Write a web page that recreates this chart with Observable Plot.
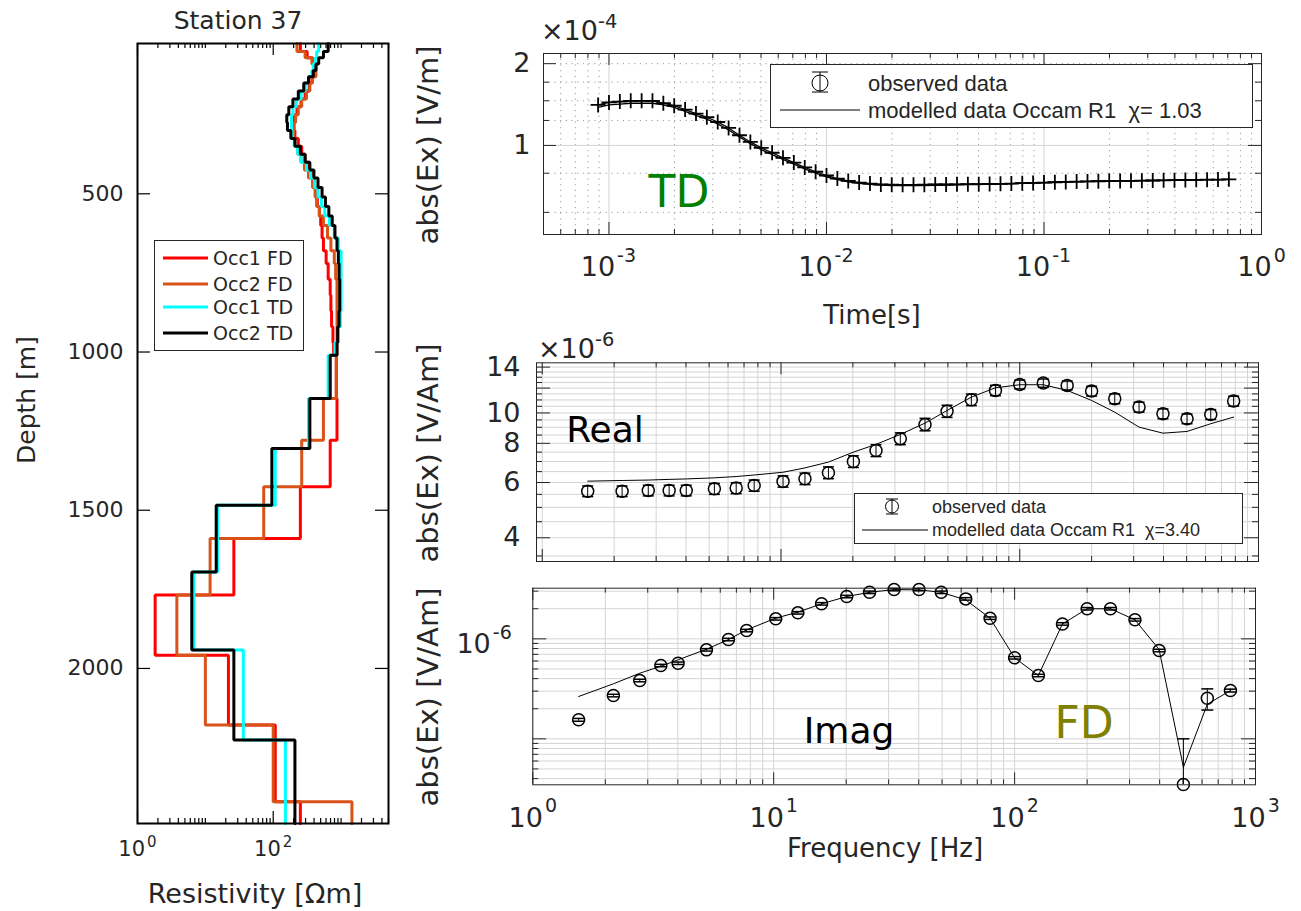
<!DOCTYPE html>
<html><head><meta charset="utf-8">
<script src="https://cdn.jsdelivr.net/npm/d3@7"></script>
<script src="https://cdn.jsdelivr.net/npm/@observablehq/plot@0.6"></script>
<style>
body{margin:0;background:#fff;width:1301px;height:911px;position:relative;overflow:hidden;font-family:"DejaVu Sans",sans-serif;color:#262626}
.abs{position:absolute;white-space:nowrap;line-height:1}
.pl{position:absolute}
.pl svg{overflow:visible}
sup{font-size:0.72em;vertical-align:0.6em;line-height:0}
</style></head><body>
<script>
// ---------------- DATA ----------------
// Left panel: layered resistivity models (log10 of resistivity in Ohm m), layer top depths in m
const upperLayerTops = [25,50,70,90,110,130,150,175,200,225,250,275,300,325,350,375,400,425,450,480,510,540,570,600,640,680,720,770,820,870,920,970];
const fdDeepTops = [1010,1147,1279,1426,1589,1768,1958,2179,2421];
const tdDeepTops = [1010,1147,1305,1484,1695,1942,2226];
const depthBottom = 2490;
const occ1FDUpper = [2.40,2.50,2.58,2.62,2.62,2.57,2.53,2.47,2.41,2.35,2.31,2.30,2.32,2.37,2.42,2.47,2.52,2.56,2.59,2.62,2.65,2.68,2.70,2.72,2.74,2.78,2.81,2.84,2.85,2.86,2.88,2.89];
const occ1FDDeep = [2.93,2.94,2.84,2.40,1.42,0.26,1.34,2.03,2.40];
const occ2FDUpper = [2.35,2.47,2.57,2.63,2.63,2.58,2.54,2.49,2.42,2.37,2.33,2.31,2.30,2.32,2.36,2.41,2.46,2.52,2.58,2.62,2.64,2.68,2.74,2.80,2.85,2.90,2.92,2.94,2.94,2.94,2.94,2.94];
const occ2FDDeep = [2.93,2.74,2.42,1.86,1.07,0.58,1.00,2.00,3.16];
const occ1TDUpper = [2.67,2.64,2.62,2.59,2.57,2.52,2.47,2.41,2.34,2.29,2.27,2.27,2.28,2.31,2.36,2.41,2.49,2.55,2.61,2.66,2.71,2.76,2.83,2.90,2.96,3.00,3.00,3.00,3.00,2.99,2.96,2.91];
const occ1TDDeep = [2.81,2.52,2.03,1.18,0.83,1.56,2.18];
const occ2TDUpper = [2.81,2.74,2.67,2.63,2.59,2.52,2.45,2.37,2.29,2.23,2.20,2.21,2.26,2.32,2.40,2.47,2.54,2.60,2.66,2.72,2.77,2.82,2.87,2.91,2.94,2.96,2.97,2.98,2.98,2.97,2.95,2.94];
const occ2TDDeep = [2.84,2.54,1.98,1.16,0.80,1.42,2.32];
const modelNames = ["Occ1 FD","Occ2 FD","Occ1 TD","Occ2 TD"];
const modelColors = ["#ff0000","#d95319","#00ffff","#000000"];
const depthTicks = [500,1000,1500,2000];

// Top right: time domain (x 1e-4 V/m)
const tdTime = [0.000891,0.001,0.001122,0.001259,0.001413,0.001585,0.001778,0.001995,0.002239,0.002512,0.002818,0.003162,0.003548,0.003981,0.004467,0.005012,0.005623,0.00631,0.007079,0.007943,0.008913,0.01,0.01122,0.01259,0.01413,0.01585,0.01778,0.01995,0.02239,0.02512,0.02818,0.03162,0.03548,0.03981,0.04467,0.05012,0.05623,0.0631,0.07079,0.07943,0.08913,0.1,0.1122,0.1259,0.1413,0.1585,0.1778,0.1995,0.2239,0.2512,0.2818,0.3162,0.3548,0.3981,0.4467,0.5012,0.5623,0.631,0.7079];
const tdObserved = [1.41,1.44,1.45,1.46,1.46,1.46,1.43,1.40,1.355,1.31,1.27,1.22,1.16,1.09,1.03,0.98,0.94,0.90,0.865,0.83,0.80,0.775,0.755,0.74,0.73,0.724,0.718,0.717,0.716,0.716,0.717,0.718,0.718,0.719,0.72,0.72,0.721,0.722,0.724,0.726,0.728,0.73,0.732,0.734,0.736,0.737,0.738,0.739,0.74,0.741,0.742,0.743,0.744,0.745,0.746,0.747,0.748,0.749,0.75];
const tdModelled = [1.38,1.41,1.42,1.43,1.43,1.43,1.41,1.38,1.335,1.29,1.25,1.20,1.14,1.075,1.015,0.965,0.925,0.888,0.853,0.82,0.79,0.766,0.748,0.734,0.725,0.719,0.714,0.712,0.711,0.711,0.712,0.713,0.714,0.716,0.717,0.718,0.72,0.722,0.724,0.726,0.728,0.73,0.732,0.734,0.735,0.736,0.738,0.739,0.74,0.741,0.742,0.743,0.744,0.745,0.746,0.747,0.748,0.749,0.75];
const tdChi = "1.03";

// Frequency domain
const freqs = [1.55,2.16,2.78,3.40,4.01,5.26,6.49,7.72,10.2,12.6,15.8,20.1,25.0,31.6,40.1,49.6,62.7,79.1,100,125.5,158,200,250,316,398,502,631,787];
const realObserved = [5.63,5.63,5.66,5.66,5.66,5.73,5.76,5.87,6.05,6.17,6.45,7.00,7.59,8.28,9.19,10.13,11.02,11.80,12.33,12.45,12.24,11.74,11.10,10.44,9.94,9.58,9.89,10.91];
const realError = [0.22,0.22,0.22,0.22,0.22,0.23,0.23,0.24,0.25,0.26,0.28,0.30,0.33,0.36,0.42,0.45,0.47,0.45,0.40,0.38,0.40,0.42,0.40,0.38,0.36,0.34,0.36,0.40];
const realModelled = [6.06,6.09,6.11,6.14,6.16,6.21,6.27,6.34,6.47,6.68,6.97,7.50,7.94,8.54,9.28,10.18,11.23,12.03,12.30,12.30,11.80,10.96,10.06,9.01,8.62,8.73,9.24,9.70];
const imagObserved = [1.55e-7,2.71e-7,3.83e-7,5.41e-7,5.70e-7,7.76e-7,9.84e-7,1.21e-6,1.585e-6,1.82e-6,2.24e-6,2.65e-6,2.92e-6,3.11e-6,3.11e-6,2.92e-6,2.51e-6,1.61e-6,6.46e-7,4.30e-7,1.41e-6,2.0e-6,2.0e-6,1.55e-6,7.64e-7,3.5e-8,2.55e-7,3.04e-7];
const imagError = [5e-9,8e-9,1.1e-8,1.5e-8,1.6e-8,2.2e-8,2.8e-8,3.4e-8,4.5e-8,5.2e-8,6.4e-8,7.5e-8,8.3e-8,8.8e-8,8.8e-8,8.3e-8,7.1e-8,4.6e-8,1.8e-8,1.2e-8,4.0e-8,5.7e-8,5.7e-8,4.4e-8,2.2e-8,6.5e-8,6.1e-8,1.0e-8];
const imagModelled = [2.65e-7,3.55e-7,4.53e-7,5.32e-7,6.17e-7,7.87e-7,9.84e-7,1.23e-6,1.61e-6,1.85e-6,2.24e-6,2.65e-6,2.92e-6,3.11e-6,3.09e-6,2.92e-6,2.45e-6,1.61e-6,6.46e-7,4.30e-7,1.41e-6,2.0e-6,2.0e-6,1.55e-6,7.82e-7,5.2e-8,2.22e-7,3.04e-7];
const fdChi = "3.40";

// ticks / grid positions
const decadeMinor1 = [2,3,4,5,6,7,8,9,20,30,40,50,60,70,80,90,200,300,400,500,600,700,800,900];
const freqGrid = [1,2,3,4,5,6,7,8,9,10,20,30,40,50,60,70,80,90,100,200,300,400,500,600,700,800,900,1000];
const resMinor = [2,3,4,5,6,7,8,9,10,20,30,40,50,60,70,80,90,200,300,400,500,600,700,800,900,1000,2000,3000,4000,5000];
const timeMajor = [0.001,0.01,0.1];
const timeMinor = [5e-4,6e-4,7e-4,8e-4,9e-4,0.002,0.003,0.004,0.005,0.006,0.007,0.008,0.009,0.02,0.03,0.04,0.05,0.06,0.07,0.08,0.09,0.2,0.3,0.4,0.5,0.6,0.7,0.8,0.9];
const tdYMinor = [0.567,0.79,1.236,1.46,1.71,2];
const realYMajor = [4,6,8,10,12,14];
const realYLabels = [4,6,8,10,14];
const realYGrid = [3.5,4,4.5,5,5.5,6,6.5,7,7.5,8,8.5,9,9.5,10,10.5,11,11.5,12,12.5,13,13.5,14];
const imagYGrid = [4e-8,5e-8,6e-8,7e-8,8e-8,9e-8,1e-7,2e-7,3e-7,4e-7,5e-7,6e-7,7e-7,8e-7,9e-7,1e-6,2e-6,3e-6];

// ---------------- HELPERS ----------------
const expStr = d => String(Math.round(Math.log10(d)));
const capSym = {draw(ctx, size){const r = Math.sqrt(size/Math.PI); ctx.moveTo(-r,0); ctx.lineTo(r,0);}};
const plusSym = {draw(ctx, size){const r = Math.sqrt(size/Math.PI); ctx.moveTo(-r,0); ctx.lineTo(r,0); ctx.moveTo(0,-r); ctx.lineTo(0,r);}};
const GRID = "#d4d4d4";
const AX = "#262626";

// power-of-ten tick labels: "10" plus a raised exponent, centred on the tick
function powLabelsX(ticks, {fb, fe, dyB, dyE, gap = 2}) {
  const marks = [];
  for (const t of ticks) {
    const e = expStr(t).split("").reduce((s, c) => s + (c === "-" ? 0.42 : 0.636), 0) * fe;
    const bw = 1.272 * fb, tot = bw + gap + e, endB = -tot / 2 + bw;
    marks.push(Plot.text([t], {x: d => d, frameAnchor: "bottom", text: () => "10", textAnchor: "end", dx: endB, dy: dyB, fontSize: fb, lineAnchor: "middle"}));
    marks.push(Plot.text([t], {x: d => d, frameAnchor: "bottom", text: d => expStr(d), textAnchor: "start", dx: endB + gap, dy: dyE, fontSize: fe, lineAnchor: "middle"}));
  }
  return marks;
}
function boxTicks({xMaj=[], xMin=[], yMaj=[], yMin=[], W, H, xL=[12,5], yL=[14,6], stroke=AX, sw=1}) {
  const m = [];
  for (const [vals, L] of [[xMaj, xL[0]], [xMin, xL[1]]]) {
    m.push(Plot.tickX(vals, {x: d => d, insetTop: H - L, stroke, strokeWidth: sw}));
    m.push(Plot.tickX(vals, {x: d => d, insetBottom: H - L, stroke, strokeWidth: sw}));
  }
  for (const [vals, L] of [[yMaj, yL[0]], [yMin, yL[1]]]) {
    m.push(Plot.tickY(vals, {y: d => d, insetRight: W - L, stroke, strokeWidth: sw}));
    m.push(Plot.tickY(vals, {y: d => d, insetLeft: W - L, stroke, strokeWidth: sw}));
  }
  return m;
}
function place(node, left, top) {
  const d = document.createElement("div");
  d.className = "pl"; d.style.left = left + "px"; d.style.top = top + "px";
  d.appendChild(node); document.body.appendChild(d);
}
function txt(html, x, y, o = {}) {
  const d = document.createElement("div");
  d.className = "abs"; d.innerHTML = html;
  d.style.left = x + "px"; d.style.top = y + "px";
  d.style.fontSize = (o.size || 24) + "px";
  d.style.fontFamily = o.family || '"DejaVu Sans"';
  d.style.color = o.color || AX;
  d.style.transform = (o.left ? "translate(0,-50%)" : "translate(-50%,-50%)") + (o.rotate ? ` rotate(${o.rotate}deg)` : "");
  document.body.appendChild(d);
}
function svgBox(html, left, top, w, h) {
  const d = document.createElement("div");
  d.className = "pl"; d.style.left = left + "px"; d.style.top = top + "px";
  d.innerHTML = `<svg width="${w}" height="${h}" xmlns="http://www.w3.org/2000/svg">${html}</svg>`;
  document.body.appendChild(d);
}

// ---------------- PANEL A: depth profiles ----------------
function layers(upper, deep, deepTops) {
  const vals = upper.concat(deep), tops = upperLayerTops.concat(deepTops);
  const pts = [];
  tops.forEach((t, i) => {
    const b = i + 1 < tops.length ? tops[i + 1] : depthBottom;
    pts.push({rho: 10 ** vals[i], depth: t}, {rho: 10 ** vals[i], depth: b});
  });
  return pts;
}
const profiles = [
  layers(occ1FDUpper, occ1FDDeep, fdDeepTops),
  layers(occ2FDUpper, occ2FDDeep, fdDeepTops),
  layers(occ1TDUpper, occ1TDDeep, tdDeepTops),
  layers(occ2TDUpper, occ2TDDeep, tdDeepTops)
];
{
  const W = 251, H = 780;
  const p = Plot.plot({
    width: 400, height: 911, marginLeft: 137, marginRight: 12, marginTop: 43, marginBottom: 88,
    x: {type: "log", domain: [1, 5000], axis: null},
    y: {domain: [25, 2490], reverse: true},
    style: {fontFamily: '"DejaVu Sans"', fontSize: "22px", color: AX, background: "transparent"},
    marks: [
      ...boxTicks({xMaj: [1, 100], xMin: resMinor, yMaj: depthTicks, W, H, xL: [12, 5], yL: [13, 6], stroke: "#000", sw: 1.2}),
      ...profiles.map((pts, i) => Plot.line(pts, {x: "rho", y: "depth", stroke: modelColors[i], strokeWidth: 3, strokeLinejoin: "miter"})),
      ...powLabelsX([1, 100], {fb: 21, fe: 15, dyB: 26, dyE: 19}),
      Plot.axisY({ticks: depthTicks, tickFormat: d => String(d), tickSize: 0, tickPadding: 14, label: null, anchor: "left"}),
      Plot.frame({stroke: "#000", strokeWidth: 2})
    ]
  });
  place(p, 0, 0);
  txt("Station 37", 238, 20, {size: 25});
  txt("Depth [m]", 26, 400, {size: 25, rotate: -90});
  txt("Resistivity [\u03a9m]", 255, 893, {size: 27});
  let lg = `<rect x="0.5" y="0.5" width="149" height="110" fill="white" stroke="${AX}"/>`;
  [18, 44, 67, 93].forEach((yy, i) => {
    lg += `<line x1="9" x2="54" y1="${yy}" y2="${yy}" stroke="${modelColors[i]}" stroke-width="3"/>`;
    lg += `<text x="59" y="${yy}" dy="0.36em" font-family="DejaVu Sans" font-size="19" fill="${AX}">${modelNames[i]}</text>`;
  });
  svgBox(lg, 154, 240, 150, 111);
}

// ---------------- PANEL B: time domain ----------------
{
  const W = 718, H = 181;
  const data = tdTime.map((t, i) => ({t, obs: tdObserved[i], mod: tdModelled[i]}));
  const p = Plot.plot({
    width: 860, height: 300, marginLeft: 103, marginRight: 39, marginTop: 53, marginBottom: 66,
    x: {type: "log", domain: [5e-4, 1], axis: null},
    y: {type: "log", domain: [0.47, 2.18]},
    style: {fontFamily: '"DejaVu Sans"', fontSize: "27px", color: AX, background: "transparent"},
    marks: [
      Plot.ruleX(timeMinor, {stroke: "#9a9a9a", strokeDasharray: "1.2,4.5", strokeWidth: 1}),
      Plot.ruleY(tdYMinor, {stroke: "#9a9a9a", strokeDasharray: "1.2,4.5", strokeWidth: 1}),
      Plot.ruleX(timeMajor, {stroke: GRID}),
      Plot.ruleY([1], {stroke: GRID}),
      ...boxTicks({xMaj: timeMajor, xMin: timeMinor, yMaj: [1, 2], yMin: [0.567, 0.79, 1.236, 1.46, 1.71], W, H, xL: [12, 5], yL: [13, 6]}),
      Plot.line(data, {x: "t", y: "mod", stroke: "#000", strokeWidth: 1.3}),
      Plot.line(data, {x: "t", y: "obs", stroke: "#000", strokeWidth: 1.3}),
      Plot.dot(data, {x: "t", y: "obs", symbol: plusSym, r: 7.5, stroke: "#000", fill: "none", strokeWidth: 1.8}),
      ...powLabelsX([0.001, 0.01, 0.1, 1], {fb: 27, fe: 19, dyB: 33, dyE: 21}),
      Plot.axisY({ticks: [1, 2], tickFormat: d => String(d), tickSize: 0, tickPadding: 13, label: null, anchor: "left"}),
      Plot.frame({stroke: AX})
    ]
  });
  place(p, 440, 0);
  txt("\u00d710<sup>-4</sup>", 541, 30, {size: 27, left: true});
  txt("abs(Ex) [V/m]", 428, 145, {size: 29, rotate: -90});
  txt("Time[s]", 872, 315, {size: 26});
  txt("TD", 679, 192, {size: 44, color: "#008000"});
  const lg = `<rect x="0.5" y="0.5" width="482" height="63" fill="white" stroke="${AX}"/>
    <line x1="50" x2="50" y1="8" y2="28" stroke="#000"/>
    <line x1="42" x2="58" y1="8" y2="8" stroke="#000"/>
    <line x1="42" x2="58" y1="28" y2="28" stroke="#000"/>
    <circle cx="50" cy="19" r="8" fill="none" stroke="#000"/>
    <text x="98" y="19" dy="0.36em" font-family="Liberation Sans" font-size="22" fill="${AX}">observed data</text>
    <line x1="10" x2="90" y1="46" y2="46" stroke="#000"/>
    <text x="98" y="46" dy="0.36em" font-family="Liberation Sans" font-size="22" fill="${AX}">modelled data Occam R1\u00a0\u00a0\u03c7= ${tdChi}</text>`;
  svgBox(lg, 770, 64, 484, 65);
}

// ---------------- PANEL C: real part ----------------
{
  const W = 722, H = 198.7;
  const data = freqs.map((f, i) => ({f, obs: realObserved[i], mod: realModelled[i], lo: realObserved[i] - realError[i], hi: realObserved[i] + realError[i]}));
  const p = Plot.plot({
    width: 860, height: 270, marginLeft: 96, marginRight: 42, marginTop: 32.3, marginBottom: 39,
    x: {type: "log", domain: [0.946, 1000], axis: null},
    y: {type: "log", domain: [3.36, 14.45]},
    style: {fontFamily: '"DejaVu Sans"', fontSize: "27px", color: AX, background: "transparent"},
    marks: [
      Plot.ruleY(realYGrid, {stroke: GRID}),
      Plot.ruleX(freqGrid, {stroke: GRID}),
      ...boxTicks({xMaj: [1, 10, 100, 1000], xMin: decadeMinor1, yMaj: realYMajor, yMin: realYGrid.filter(v => !realYMajor.includes(v)), W, H, xL: [12, 5], yL: [14, 6]}),
      Plot.line(data, {x: "f", y: "mod", stroke: "#000", strokeWidth: 1}),
      Plot.ruleX(data, {x: "f", y1: "lo", y2: "hi", stroke: "#000"}),
      Plot.dot(data, {x: "f", y: "lo", symbol: capSym, r: 5.5, stroke: "#000", fill: "none"}),
      Plot.dot(data, {x: "f", y: "hi", symbol: capSym, r: 5.5, stroke: "#000", fill: "none"}),
      Plot.dot(data, {x: "f", y: "obs", r: 6, stroke: "#000", fill: "none"}),
      Plot.axisY({ticks: realYLabels, tickFormat: d => String(d), tickSize: 0, tickPadding: 16, label: null, anchor: "left"}),
      Plot.frame({stroke: AX})
    ]
  });
  place(p, 440, 330);
  txt("\u00d710<sup>-6</sup>", 538, 348, {size: 27, left: true});
  txt("abs(Ex) [V/Am]", 428, 453, {size: 29, rotate: -90});
  txt("Real", 605, 430, {size: 36, color: "#000"});
  const lg = `<rect x="0.5" y="0.5" width="388" height="50" fill="white" stroke="${AX}"/>
    <line x1="38" x2="38" y1="6" y2="21" stroke="#000"/>
    <line x1="32" x2="44" y1="6" y2="6" stroke="#000"/>
    <line x1="32" x2="44" y1="21" y2="21" stroke="#000"/>
    <circle cx="38" cy="13.5" r="6.5" fill="none" stroke="#000"/>
    <text x="78" y="13.5" dy="0.36em" font-family="Liberation Sans" font-size="18" fill="${AX}">observed data</text>
    <line x1="8" x2="74" y1="37" y2="37" stroke="#000"/>
    <text x="78" y="37" dy="0.36em" font-family="Liberation Sans" font-size="18" fill="${AX}">modelled data Occam R1\u00a0\u00a0\u03c7=${fdChi}</text>`;
  svgBox(lg, 854, 493, 390, 52);
}

// ---------------- PANEL D: imaginary part ----------------
{
  const W = 722.7, H = 196.6;
  const ymin = 3.47e-8;
  const data = freqs.map((f, i) => ({f, obs: imagObserved[i], mod: imagModelled[i], lo: Math.max(imagObserved[i] - imagError[i], ymin), hi: imagObserved[i] + imagError[i]}));
  const p = Plot.plot({
    width: 860, height: 341, marginLeft: 92.3, marginRight: 45, marginTop: 17.7, marginBottom: 126.7,
    x: {type: "log", domain: [1, 1000], axis: null},
    y: {type: "log", domain: [ymin, 3.21e-6], axis: null},
    style: {fontFamily: '"DejaVu Sans"', fontSize: "27px", color: AX, background: "transparent"},
    marks: [
      Plot.ruleY(imagYGrid, {stroke: GRID}),
      Plot.ruleX(freqGrid, {stroke: GRID}),
      ...boxTicks({xMaj: [1, 10, 100, 1000], xMin: decadeMinor1, yMaj: [1e-7, 1e-6], yMin: imagYGrid.filter(v => v !== 1e-7 && v !== 1e-6), W, H, xL: [12, 5], yL: [14, 6]}),
      Plot.line(data, {x: "f", y: "mod", stroke: "#000", strokeWidth: 1}),
      Plot.ruleX(data, {x: "f", y1: "lo", y2: "hi", stroke: "#000"}),
      Plot.dot(data.filter(d => d.lo > ymin), {x: "f", y: "lo", symbol: capSym, r: 6, stroke: "#000", fill: "none"}),
      Plot.dot(data, {x: "f", y: "hi", symbol: capSym, r: 6, stroke: "#000", fill: "none"}),
      Plot.dot(data, {x: "f", y: "obs", r: 6, stroke: "#000", fill: "none"}),
      ...powLabelsX([1, 10, 100, 1000], {fb: 27, fe: 19, dyB: 34, dyE: 21}),
      Plot.text([1e-6], {y: d => d, frameAnchor: "left", text: () => "10", textAnchor: "end", dx: -42, fontSize: 27, lineAnchor: "middle", dy: 6}),
      Plot.text([1e-6], {y: d => d, frameAnchor: "left", text: d => expStr(d), textAnchor: "start", dx: -40, fontSize: 19, lineAnchor: "middle", dy: -6}),
      Plot.frame({stroke: AX})
    ]
  });
  place(p, 440, 570);
  txt("abs(Ex) [V/Am]", 428, 697, {size: 29, rotate: -90});
  txt("Frequency [Hz]", 885, 848, {size: 26});
  txt("Imag", 849, 731, {size: 36, color: "#000"});
  txt("FD", 1084, 723, {size: 44, color: "#808000"});
}
</script>
</body></html>
